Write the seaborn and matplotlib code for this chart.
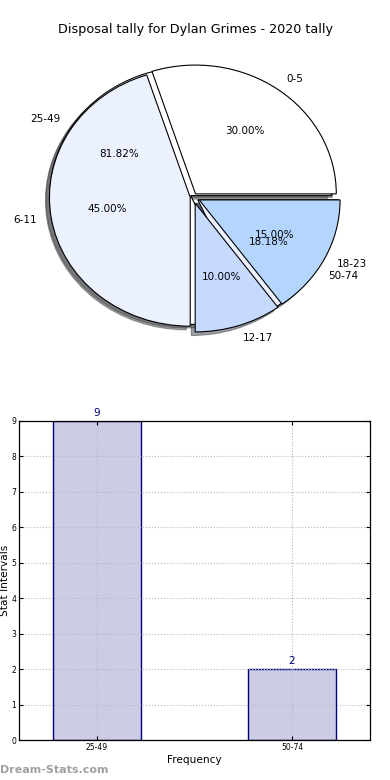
import matplotlib
matplotlib.use("Agg")
import matplotlib.pyplot as plt
import seaborn as sns
import pandas as pd

# Data
stat_ranges = ['0-5', '6-11', '12-17', '18-23']
stat_counts = [6, 9, 2, 3]
bucket_labels = ['25-49', '50-74']
bucket_counts = [9, 2]

pie_colors = ['#ffffff', '#ebf1fe', '#c6d9fe', '#b4d6fe']
bucket_colors = ['#ffffff', '#ebf1fe']

sns.set_style("white")
plt.rcParams['font.family'] = ['DejaVu Sans']
plt.rcParams.update({'text.color': 'black', 'axes.labelcolor': 'black',
                     'xtick.color': 'black', 'ytick.color': 'black'})

fig = plt.figure(figsize=(3.9, 7.8), dpi=100)
fig.patch.set_facecolor('white')

fig.text(0.5, 1 - 30 / 780, 'Disposal tally for Dylan Grimes - 2020 tally',
         ha='center', va='center', fontsize=9.2, color='black')

# --- pie (two pies drawn on the same axes) ---
ax1 = fig.add_axes([17 / 390, (780 - 358) / 780, 352 / 390, 322 / 780])
# shadows sit below both pies so the gaps stay white
ax1.pie(bucket_counts, labels=bucket_labels, colors=bucket_colors,
        explode=[0.02, 0.04], autopct='%1.2f%%',
        shadow={'zorder': 1.0},
        wedgeprops=dict(edgecolor='black', linewidth=0.8, zorder=1.9),
        textprops=dict(fontsize=7.5, zorder=5, color='black'))
ax1.pie(stat_counts, labels=stat_ranges, colors=pie_colors,
        explode=[0.03, 0.02, 0.05, 0.05], autopct='%1.2f%%',
        shadow={'zorder': 1.0},
        wedgeprops=dict(edgecolor='black', linewidth=0.8, zorder=2),
        textprops=dict(fontsize=7.5, zorder=5, color='black'))
ax1.set_aspect('auto')
ax1.set_xlim(-1.25, 1.25)
ax1.set_ylim(-1.25, 1.25)
ax1.axis('off')

# --- bar chart ---
df = pd.DataFrame({'bucket': bucket_labels, 'count': bucket_counts})
ax2 = fig.add_axes([19 / 390, 40 / 780, 351 / 390, 319 / 780])
sns.barplot(data=df, x='bucket', y='count', ax=ax2, width=0.45,
            color='#ccccE5', saturation=1, edgecolor='#000080', linewidth=1)
for c in ax2.containers:
    ax2.bar_label(c, color='#000080', fontsize=7.5, padding=2)

ax2.set_xlim(-0.4, 1.4)
ax2.set_ylim(0, 9)
ax2.set_yticks(range(0, 10))
ax2.set_axisbelow(False)
ax2.grid(True, linestyle=':', color='#b8b8b8', linewidth=0.8)
ax2.tick_params(axis='both', direction='in', labelsize=5.5, length=3,
                top=True, right=True, bottom=True, left=True, pad=2)
for spine in ax2.spines.values():
    spine.set_visible(True)
    spine.set_color('black')
    spine.set_linewidth(0.9)
    spine.set_zorder(3)
ax2.set_xlabel('Frequency', fontsize=7.6, labelpad=2)
ax2.set_ylabel('Stat Intervals', fontsize=7.6, labelpad=1)

fig.text(0.0, 1 - 770 / 780, 'Dream-Stats.com', color='#a0a0a0',
         fontsize=8, fontweight='bold', ha='left', va='center')

fig.savefig('out.png', dpi=100, facecolor='white')
